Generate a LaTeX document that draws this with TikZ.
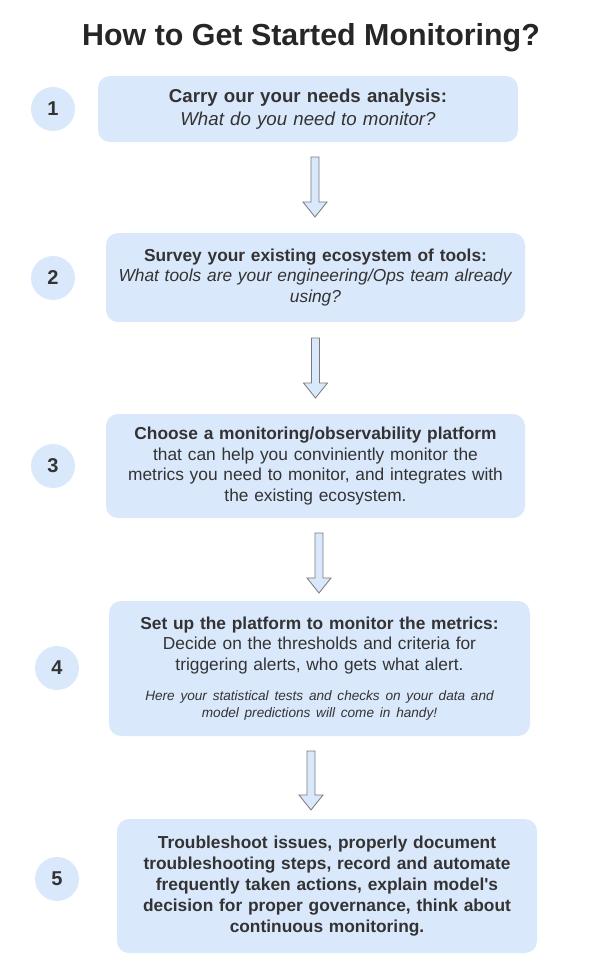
\documentclass[tikz,border=0pt]{standalone}
\usepackage{fontspec}
\setmainfont{Liberation Sans}
\usetikzlibrary{calc}
\definecolor{boxfill}{HTML}{DAE8FC}
\definecolor{txt}{HTML}{333333}
\definecolor{titletxt}{HTML}{262626}
\definecolor{arrowline}{HTML}{7A7A7A}
\newcommand{\straightquote}{\XeTeXglyph\XeTeXcharglyph"0027\relax}
\newcommand{\blockarr}[2]{%
  \draw[blockarrow] ($(#1)+(-4,0)$) -- ($(#2)+(-4,-15)$) -- ($(#2)+(-12,-15)$) -- (#2)
    -- ($(#2)+(12,-15)$) -- ($(#2)+(4,-15)$) -- ($(#1)+(4,0)$) -- cycle;}
\begin{document}
\begin{tikzpicture}[x=0.75pt,y=-0.75pt,
  stepbox/.style={fill=boxfill, rounded corners=9pt, inner sep=0pt, text=txt,
    align=center, text width=310pt, font=\fontsize{13}{15.5}\selectfont},
  numcircle/.style={circle, fill=boxfill, minimum size=33pt, inner sep=0pt, text=txt,
    font=\fontsize{15}{18}\selectfont\bfseries},
  blockarrow/.style={fill=boxfill, draw=arrowline, line width=0.6pt, line join=miter}]
\useasboundingbox (0,0) rectangle (602,976);

\node[anchor=base, font=\fontsize{22.8}{27}\selectfont\bfseries, text=titletxt] (title) at (311,45) {How to Get Started Monitoring?};

% step boxes
\node[stepbox, minimum width=315pt, minimum height=49.5pt, font=\fontsize{14}{17.5}\selectfont] (b1) at (308,109)
  {{\bfseries Carry our your needs analysis:}\\ \textit{What do you need to monitor?}};
\node[stepbox, minimum width=314.25pt, minimum height=66.75pt] (b2) at (315.5,277.5)
  {{\bfseries Survey your existing ecosystem of tools:}\\ \textit{What tools are your engineering/Ops team already}\\ \textit{using?}};
\node[stepbox, minimum width=314.25pt, minimum height=78pt] (b3) at (315.5,466)
  {{\bfseries Choose a monitoring/observability platform}\\ that can help you conviniently monitor the\\ metrics you need to monitor, and integrates with\\ the existing ecosystem.};
\node[stepbox, minimum width=315.75pt, minimum height=101.25pt] (b4) at (319.5,668.5)
  {{\bfseries Set up the platform to monitor the metrics:}\\ Decide on the thresholds and criteria for\\ triggering alerts, who gets what alert.\par\vspace{10pt}%
   {\fontsize{10.2}{12.75}\selectfont\itshape\centering Here your statistical tests and checks on your data and\\ model predictions will come in handy!\par}};
\node[stepbox, minimum width=315pt, minimum height=100.5pt, font=\fontsize{13}{15.7}\selectfont\bfseries] (b5) at (327,886)
  {Troubleshoot issues, properly document\\ troubleshooting steps, record and automate\\ frequently taken actions, explain model\straightquote s\\ decision for proper governance, think about\\ continuous monitoring.};

% number circles
\node[numcircle] (n1) at (53,109) {1};
\node[numcircle] (n2) at (53,278) {2};
\node[numcircle] (n3) at (53,466) {3};
\node[numcircle] (n4) at (57,668) {4};
\node[numcircle] (n5) at (57,879) {5};

% block arrows
\coordinate (a1s) at (315,157);   \coordinate (a1e) at (315,217);
\coordinate (a2s) at (315.5,338); \coordinate (a2e) at (315.5,398);
\coordinate (a3s) at (319,533);   \coordinate (a3e) at (319,593);
\coordinate (a4s) at (311,751);   \coordinate (a4e) at (311,810);
\blockarr{a1s}{a1e}
\blockarr{a2s}{a2e}
\blockarr{a3s}{a3e}
\blockarr{a4s}{a4e}
\end{tikzpicture}
\end{document}
